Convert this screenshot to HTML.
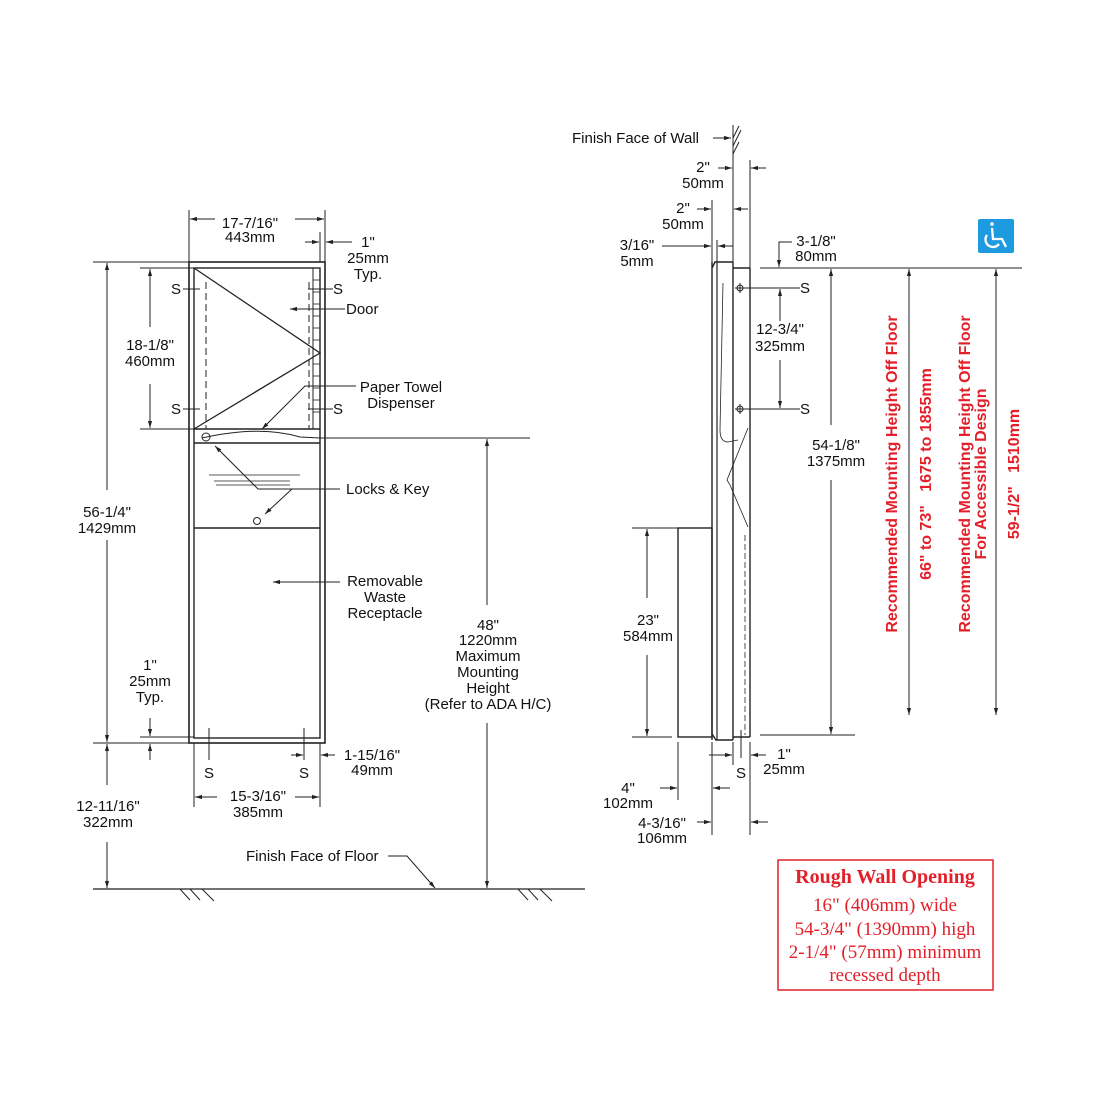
<!DOCTYPE html>
<html><head><meta charset="utf-8"><style>
html,body{margin:0;padding:0;background:#fff;}
svg{display:block;}
text{font-family:"Liberation Sans",Arial,sans-serif;font-size:15px;fill:#111;}
.r{fill:#e3202a;font-size:16px;font-weight:bold;}
.c{text-anchor:middle;}
.s{font-family:"Liberation Serif",serif;fill:#e3202a;text-anchor:middle;font-size:19px;}
</style></head><body>
<svg width="1100" height="1100" viewBox="0 0 1100 1100" xmlns="http://www.w3.org/2000/svg">
<defs>
<marker id="a" viewBox="0 0 10 10" refX="10" refY="5" markerWidth="7" markerHeight="7" orient="auto-start-reverse"><path d="M0,2 L10,5 L0,8 z" fill="#222"/></marker>
</defs>
<g stroke="#222" stroke-width="1" fill="none">
<!-- FRONT VIEW -->
<rect x="189" y="262" width="136" height="481" stroke-width="1.6"/>
<rect x="194" y="268" width="126" height="470" stroke-width="1.4"/>
<line x1="194" y1="429" x2="320" y2="429" stroke-width="1.4"/>
<line x1="194" y1="443" x2="320" y2="443" stroke-width="1.4"/>
<line x1="194" y1="528" x2="320" y2="528" stroke-width="1.4"/>
<polyline points="194,268 320,353 194,429" stroke-width="1.3"/>
<line x1="313" y1="268" x2="313" y2="429"/>
<g stroke-width="0.8">
<line x1="313" y1="280" x2="320" y2="280"/><line x1="313" y1="292" x2="320" y2="292"/><line x1="313" y1="304" x2="320" y2="304"/><line x1="313" y1="316" x2="320" y2="316"/><line x1="313" y1="328" x2="320" y2="328"/><line x1="313" y1="340" x2="320" y2="340"/><line x1="313" y1="364" x2="320" y2="364"/><line x1="313" y1="376" x2="320" y2="376"/><line x1="313" y1="388" x2="320" y2="388"/><line x1="313" y1="400" x2="320" y2="400"/><line x1="313" y1="412" x2="320" y2="412"/>
</g>
<line x1="206" y1="282" x2="206" y2="429" stroke-dasharray="7,4"/>
<line x1="309" y1="282" x2="309" y2="429" stroke-dasharray="7,4"/>
<path d="M202,438 Q260,425 300,437 L320,438"/>
<circle cx="206" cy="437" r="4"/>
<line x1="209" y1="475" x2="300" y2="475" stroke-width="0.8"/>
<line x1="214" y1="481" x2="290" y2="481" stroke-width="0.8"/>
<line x1="216" y1="485" x2="290" y2="485" stroke-width="0.8"/>
<circle cx="257" cy="521" r="3.5"/>
<line x1="183" y1="289" x2="200" y2="289"/><line x1="183" y1="409" x2="200" y2="409"/>
<line x1="308" y1="289" x2="333" y2="289"/><line x1="308" y1="409" x2="333" y2="409"/>
<line x1="345" y1="309" x2="290" y2="309" marker-end="url(#a)"/>
<polyline points="356,386 305,386 262,429" marker-end="url(#a)"/>
<polyline points="340,489 258,489 215,446" marker-end="url(#a)"/>
<line x1="292" y1="489" x2="265" y2="514" marker-end="url(#a)"/>
<line x1="340" y1="582" x2="273" y2="582" marker-end="url(#a)"/>
<line x1="189" y1="210" x2="189" y2="262"/><line x1="325" y1="210" x2="325" y2="262"/><line x1="320" y1="232" x2="320" y2="262"/>
<line x1="215" y1="219" x2="190" y2="219" marker-end="url(#a)"/><line x1="295" y1="219" x2="324" y2="219" marker-end="url(#a)"/>
<line x1="305" y1="242" x2="319" y2="242" marker-end="url(#a)"/><line x1="352" y1="242" x2="326" y2="242" marker-end="url(#a)"/>
<line x1="93" y1="262" x2="189" y2="262"/><line x1="93" y1="743" x2="189" y2="743"/>
<line x1="140" y1="268" x2="194" y2="268"/><line x1="140" y1="429" x2="194" y2="429"/>
<line x1="107" y1="490" x2="107" y2="263" marker-end="url(#a)"/><line x1="107" y1="540" x2="107" y2="742" marker-end="url(#a)"/>
<line x1="150" y1="327" x2="150" y2="269" marker-end="url(#a)"/><line x1="150" y1="384" x2="150" y2="428" marker-end="url(#a)"/>
<line x1="140" y1="737" x2="194" y2="737"/>
<line x1="150" y1="718" x2="150" y2="736" marker-end="url(#a)"/><line x1="150" y1="760" x2="150" y2="744" marker-end="url(#a)"/>
<line x1="107" y1="785" x2="107" y2="744" marker-end="url(#a)"/><line x1="107" y1="842" x2="107" y2="888" marker-end="url(#a)"/>
<line x1="209" y1="728" x2="209" y2="760"/><line x1="304" y1="728" x2="304" y2="760"/>
<line x1="194" y1="743" x2="194" y2="807"/><line x1="320" y1="743" x2="320" y2="807"/>
<line x1="291" y1="755" x2="303" y2="755" marker-end="url(#a)"/><line x1="335" y1="755" x2="321" y2="755" marker-end="url(#a)"/>
<line x1="217" y1="797" x2="195" y2="797" marker-end="url(#a)"/><line x1="295" y1="797" x2="319" y2="797" marker-end="url(#a)"/>
<line x1="320" y1="438" x2="530" y2="438"/>
<line x1="487" y1="605" x2="487" y2="439" marker-end="url(#a)"/><line x1="487" y1="723" x2="487" y2="888" marker-end="url(#a)"/>
<line x1="93" y1="889" x2="585" y2="889" stroke-width="1.3"/>
<path d="M180,889 l10,11 M190,889 l10,11 M202,889 l12,12 M518,889 l10,11 M528,889 l10,11 M540,889 l12,12"/>
<polyline points="388,856 407,856 435,888" marker-end="url(#a)"/>
<!-- SIDE VIEW -->
<line x1="733" y1="125" x2="733" y2="262" />
<path d="M733,138 l6,-12 M733,146 l8,-16 M733,154 l6,-12"/>
<line x1="712" y1="262" x2="712" y2="740" stroke-width="1.4"/>
<line x1="717" y1="262" x2="717" y2="740" stroke-width="1.2"/>
<line x1="733" y1="262" x2="733" y2="740" stroke-width="1.4"/>
<line x1="750" y1="268" x2="750" y2="737" stroke-width="1.4"/>
<line x1="733" y1="268" x2="750" y2="268" stroke-width="1.4"/>
<path d="M712,268 L715,262 L733,262 M712,734 L716,740 L733,740 M733,737 L750,737" stroke-width="1.4"/>
<path d="M723,283 L720,430 Q720,442 728,442 L738,440" stroke-width="0.8"/>
<path d="M748,428 L727,480 L730,485 L748,527" stroke-width="0.8"/>
<line x1="745" y1="535" x2="745" y2="735" stroke-dasharray="6,3" stroke-width="0.8"/>
<rect x="678" y="528" width="34" height="209" stroke-width="1.4"/>
<circle cx="740" cy="288" r="3"/><line x1="735" y1="288" x2="800" y2="288"/><line x1="740" y1="283" x2="740" y2="293"/>
<circle cx="740" cy="409" r="3"/><line x1="735" y1="409" x2="800" y2="409"/><line x1="740" y1="404" x2="740" y2="414"/>
<line x1="780" y1="321" x2="780" y2="289" marker-end="url(#a)"/><line x1="780" y1="360" x2="780" y2="408" marker-end="url(#a)"/>
<line x1="712" y1="200" x2="712" y2="262"/><line x1="750" y1="160" x2="750" y2="268"/><line x1="717" y1="240" x2="717" y2="262"/>
<line x1="718" y1="168" x2="732" y2="168" marker-end="url(#a)"/><line x1="766" y1="168" x2="751" y2="168" marker-end="url(#a)"/>
<line x1="697" y1="209" x2="711" y2="209" marker-end="url(#a)"/><line x1="748" y1="209" x2="734" y2="209" marker-end="url(#a)"/>
<line x1="662" y1="246" x2="711" y2="246" marker-end="url(#a)"/><line x1="733" y1="246" x2="718" y2="246" marker-end="url(#a)"/>
<line x1="713" y1="138" x2="731" y2="138" marker-end="url(#a)"/>
<polyline points="792,242 779,242 779,267" marker-end="url(#a)"/>
<line x1="760" y1="268" x2="1022" y2="268"/>
<line x1="831" y1="425" x2="831" y2="269" marker-end="url(#a)"/><line x1="831" y1="480" x2="831" y2="734" marker-end="url(#a)"/>
<line x1="760" y1="735" x2="855" y2="735"/>
<line x1="909" y1="715" x2="909" y2="269" marker-end="url(#a)" marker-start="url(#a)"/>
<line x1="996" y1="715" x2="996" y2="269" marker-end="url(#a)" marker-start="url(#a)"/>
<line x1="632" y1="528" x2="712" y2="528"/><line x1="632" y1="737" x2="672" y2="737"/>
<line x1="647" y1="598" x2="647" y2="529" marker-end="url(#a)"/><line x1="647" y1="655" x2="647" y2="736" marker-end="url(#a)"/>
<line x1="678" y1="742" x2="678" y2="800"/><line x1="712" y1="742" x2="712" y2="835"/><line x1="733" y1="742" x2="733" y2="765"/><line x1="741" y1="730" x2="741" y2="758"/><line x1="750" y1="742" x2="750" y2="835"/>
<line x1="660" y1="788" x2="677" y2="788" marker-end="url(#a)"/><line x1="730" y1="788" x2="713" y2="788" marker-end="url(#a)"/>
<line x1="709" y1="755" x2="732" y2="755" marker-end="url(#a)"/><line x1="766" y1="755" x2="751" y2="755" marker-end="url(#a)"/>
<line x1="697" y1="822" x2="711" y2="822" marker-end="url(#a)"/><line x1="768" y1="822" x2="751" y2="822" marker-end="url(#a)"/>
<rect x="778" y="860" width="215" height="130" stroke="#e3202a" stroke-width="1.5"/>
</g>
<rect x="978" y="219" width="36" height="34" rx="2" fill="#1e9be0"/>
<g stroke="#fff" stroke-width="2.3" fill="none">
<circle cx="992" cy="224" r="1.8" fill="#fff" stroke="none"/>
<path d="M992,228 L993,239 L1002,239 L1006,247"/>
<path d="M987,235 A7,7 0 1 0 999,244"/>
</g>
<text x="250" y="228" class="c">17-7/16"</text>
<text x="250" y="242" class="c">443mm</text>
<text x="368" y="247" class="c">1"</text>
<text x="368" y="263" class="c">25mm</text>
<text x="368" y="279" class="c">Typ.</text>
<text x="176" y="294" class="c">S</text><text x="176" y="414" class="c">S</text>
<text x="338" y="294" class="c">S</text><text x="338" y="414" class="c">S</text>
<text x="346" y="314">Door</text>
<text x="401" y="392" class="c">Paper Towel</text>
<text x="401" y="408" class="c">Dispenser</text>
<text x="346" y="494">Locks &amp; Key</text>
<text x="150" y="350" class="c">18-1/8"</text>
<text x="150" y="366" class="c">460mm</text>
<text x="107" y="517" class="c">56-1/4"</text>
<text x="107" y="533" class="c">1429mm</text>
<text x="385" y="586" class="c">Removable</text>
<text x="385" y="602" class="c">Waste</text>
<text x="385" y="618" class="c">Receptacle</text>
<text x="150" y="670" class="c">1"</text>
<text x="150" y="686" class="c">25mm</text>
<text x="150" y="702" class="c">Typ.</text>
<text x="488" y="630" class="c">48"</text>
<text x="488" y="645" class="c">1220mm</text>
<text x="488" y="661" class="c">Maximum</text>
<text x="488" y="677" class="c">Mounting</text>
<text x="488" y="693" class="c">Height</text>
<text x="488" y="709" class="c">(Refer to ADA H/C)</text>
<text x="209" y="778" class="c">S</text><text x="304" y="778" class="c">S</text>
<text x="372" y="760" class="c">1-15/16"</text>
<text x="372" y="775" class="c">49mm</text>
<text x="258" y="801" class="c">15-3/16"</text>
<text x="258" y="817" class="c">385mm</text>
<text x="108" y="811" class="c">12-11/16"</text>
<text x="108" y="827" class="c">322mm</text>
<text x="246" y="861">Finish Face of Floor</text>
<text x="572" y="143">Finish Face of Wall</text>
<text x="703" y="172" class="c">2"</text>
<text x="703" y="188" class="c">50mm</text>
<text x="683" y="213" class="c">2"</text>
<text x="683" y="229" class="c">50mm</text>
<text x="637" y="250" class="c">3/16"</text>
<text x="637" y="266" class="c">5mm</text>
<text x="816" y="246" class="c">3-1/8"</text>
<text x="816" y="261" class="c">80mm</text>
<text x="805" y="293" class="c">S</text><text x="805" y="414" class="c">S</text>
<text x="780" y="334" class="c">12-3/4"</text>
<text x="780" y="351" class="c">325mm</text>
<text x="836" y="450" class="c">54-1/8"</text>
<text x="836" y="466" class="c">1375mm</text>
<text x="648" y="625" class="c">23"</text>
<text x="648" y="641" class="c">584mm</text>
<text x="784" y="759" class="c">1"</text>
<text x="784" y="774" class="c">25mm</text>
<text x="741" y="778" class="c">S</text>
<text x="628" y="793" class="c">4"</text>
<text x="628" y="808" class="c">102mm</text>
<text x="662" y="828" class="c">4-3/16"</text>
<text x="662" y="843" class="c">106mm</text>
<text class="r c" transform="translate(897,474) rotate(-90)">Recommended Mounting Height Off Floor</text>
<text class="r c" transform="translate(931,474) rotate(-90)">66" to 73"&#160;&#160;&#160;1675 to 1855mm</text>
<text class="r c" transform="translate(970,474) rotate(-90)">Recommended Mounting Height Off Floor</text>
<text class="r c" transform="translate(986,474) rotate(-90)">For Accessible Design</text>
<text class="r c" transform="translate(1019,474) rotate(-90)">59-1/2"&#160;&#160;&#160;1510mm</text>
<text x="885" y="883" class="s" style="font-weight:bold;font-size:20px">Rough Wall Opening</text>
<text x="885" y="911" class="s">16" (406mm) wide</text>
<text x="885" y="935" class="s">54-3/4" (1390mm) high</text>
<text x="885" y="958" class="s">2-1/4" (57mm) minimum</text>
<text x="885" y="981" class="s">recessed depth</text>
</svg>
</body></html>
